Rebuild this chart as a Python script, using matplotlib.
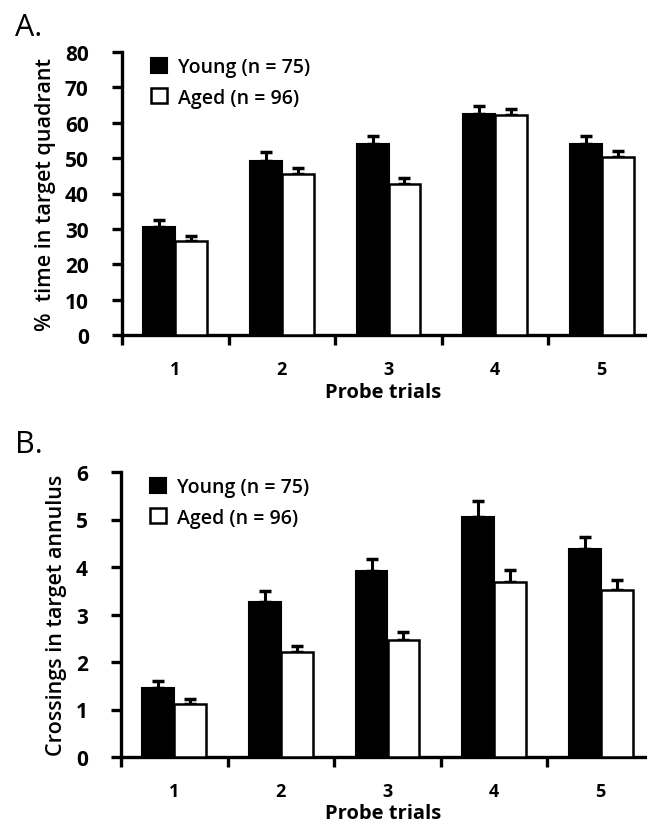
import matplotlib
matplotlib.use("Agg")
import matplotlib.pyplot as plt
import numpy as np

plt.rcParams['font.family'] = ['Open Sans', 'DejaVu Sans']

trials = [1, 2, 3, 4, 5]

# Panel A: % time in target quadrant
a_young = [30.4, 49.2, 54.1, 62.4, 54.1]
a_young_err = [2.0, 2.4, 2.2, 2.2, 2.2]
a_aged = [26.5, 45.4, 42.7, 62.1, 50.4]
a_aged_err = [1.4, 1.9, 1.7, 1.9, 1.6]
a_yticks = [0, 10, 20, 30, 40, 50, 60, 70, 80]

# Panel B: crossings in target annulus
b_young = [1.45, 3.26, 3.91, 5.06, 4.38]
b_young_err = [0.14, 0.23, 0.26, 0.32, 0.25]
b_aged = [1.11, 2.21, 2.47, 3.69, 3.52]
b_aged_err = [0.12, 0.13, 0.17, 0.24, 0.20]
b_yticks = [0, 1, 2, 3, 4, 5, 6]

W, H = 647, 829
fig = plt.figure(figsize=(W / 100, H / 100), dpi=100)


def panel(rect, young, young_err, aged, aged_err, yticks, ylabel):
    ax = fig.add_axes(rect)
    x = np.array(trials)
    bw = 0.3
    yb = ax.bar(x - bw, young, width=bw, align='edge', color='black',
                edgecolor='black', linewidth=1.5, label='Young (n = 75)', zorder=3)
    ab = ax.bar(x, aged, width=bw, align='edge', color='white',
                edgecolor='black', linewidth=1.8, label='Aged (n = 96)', zorder=3)
    ax.errorbar(x - bw / 2, young, yerr=[np.zeros(5), young_err], fmt='none',
                ecolor='black', elinewidth=2.2, capsize=4, capthick=2.5, zorder=2)
    ax.errorbar(x + bw / 2, aged, yerr=[np.zeros(5), aged_err], fmt='none',
                ecolor='black', elinewidth=2.2, capsize=4, capthick=2.5, zorder=2)

    ax.set_xlim(0.5, 5.5)
    ax.set_ylim(yticks[0], yticks[-1])
    for s in ['top', 'right']:
        ax.spines[s].set_visible(False)
    for s in ['left', 'bottom']:
        ax.spines[s].set_linewidth(2.4)
    ax.spines['left'].set_bounds(yticks[0], yticks[-1])

    ax.set_yticks(yticks)
    ax.set_yticklabels([str(t) for t in yticks], fontsize=15, fontweight='bold')
    ax.tick_params(axis='y', direction='out', length=7, width=2.4, pad=17)

    ax.set_xticks([0.5, 1.5, 2.5, 3.5, 4.5, 5.5])
    ax.set_xticklabels([])
    ax.set_xticks(trials, minor=True)
    ax.set_xticklabels([str(t) for t in trials], minor=True,
                       fontsize=13, fontweight='bold')
    ax.tick_params(axis='x', which='minor', length=0, pad=18)
    ax.tick_params(axis='x', which='major', direction='out', length=7, width=2.4)

    ax.set_ylabel(ylabel, fontsize=15.5, fontweight='semibold', labelpad=6)
    ax.legend(handles=[yb, ab], loc='upper left', bbox_to_anchor=(0.04, 1.01),
              frameon=False, prop={'weight': 'semibold', 'size': 14},
              handlelength=0.8, handleheight=0.8, handletextpad=0.6,
              labelspacing=0.55, borderaxespad=0)
    return ax


# Panel A
axA = panel([122 / W, 1 - 336 / H, 533 / W, 283 / H],
            a_young, a_young_err, a_aged, a_aged_err, a_yticks,
            '%  time in target quadrant')
fig.text(15 / W, 1 - 28 / H, 'A.', fontsize=22, va='center', ha='left')
fig.text(383 / W, 1 - 393 / H, 'Probe trials', fontsize=14.5,
         fontweight='bold', ha='center', va='center')

# Panel B
axB = panel([121 / W, 1 - 758 / H, 533 / W, 285 / H],
            b_young, b_young_err, b_aged, b_aged_err, b_yticks,
            'Crossings in target annulus')
fig.text(15 / W, 1 - 445 / H, 'B.', fontsize=22, va='center', ha='left')
fig.text(383 / W, 1 - 814 / H, 'Probe trials', fontsize=14.5,
         fontweight='bold', ha='center', va='center')

fig.savefig('out.png', dpi=100)
